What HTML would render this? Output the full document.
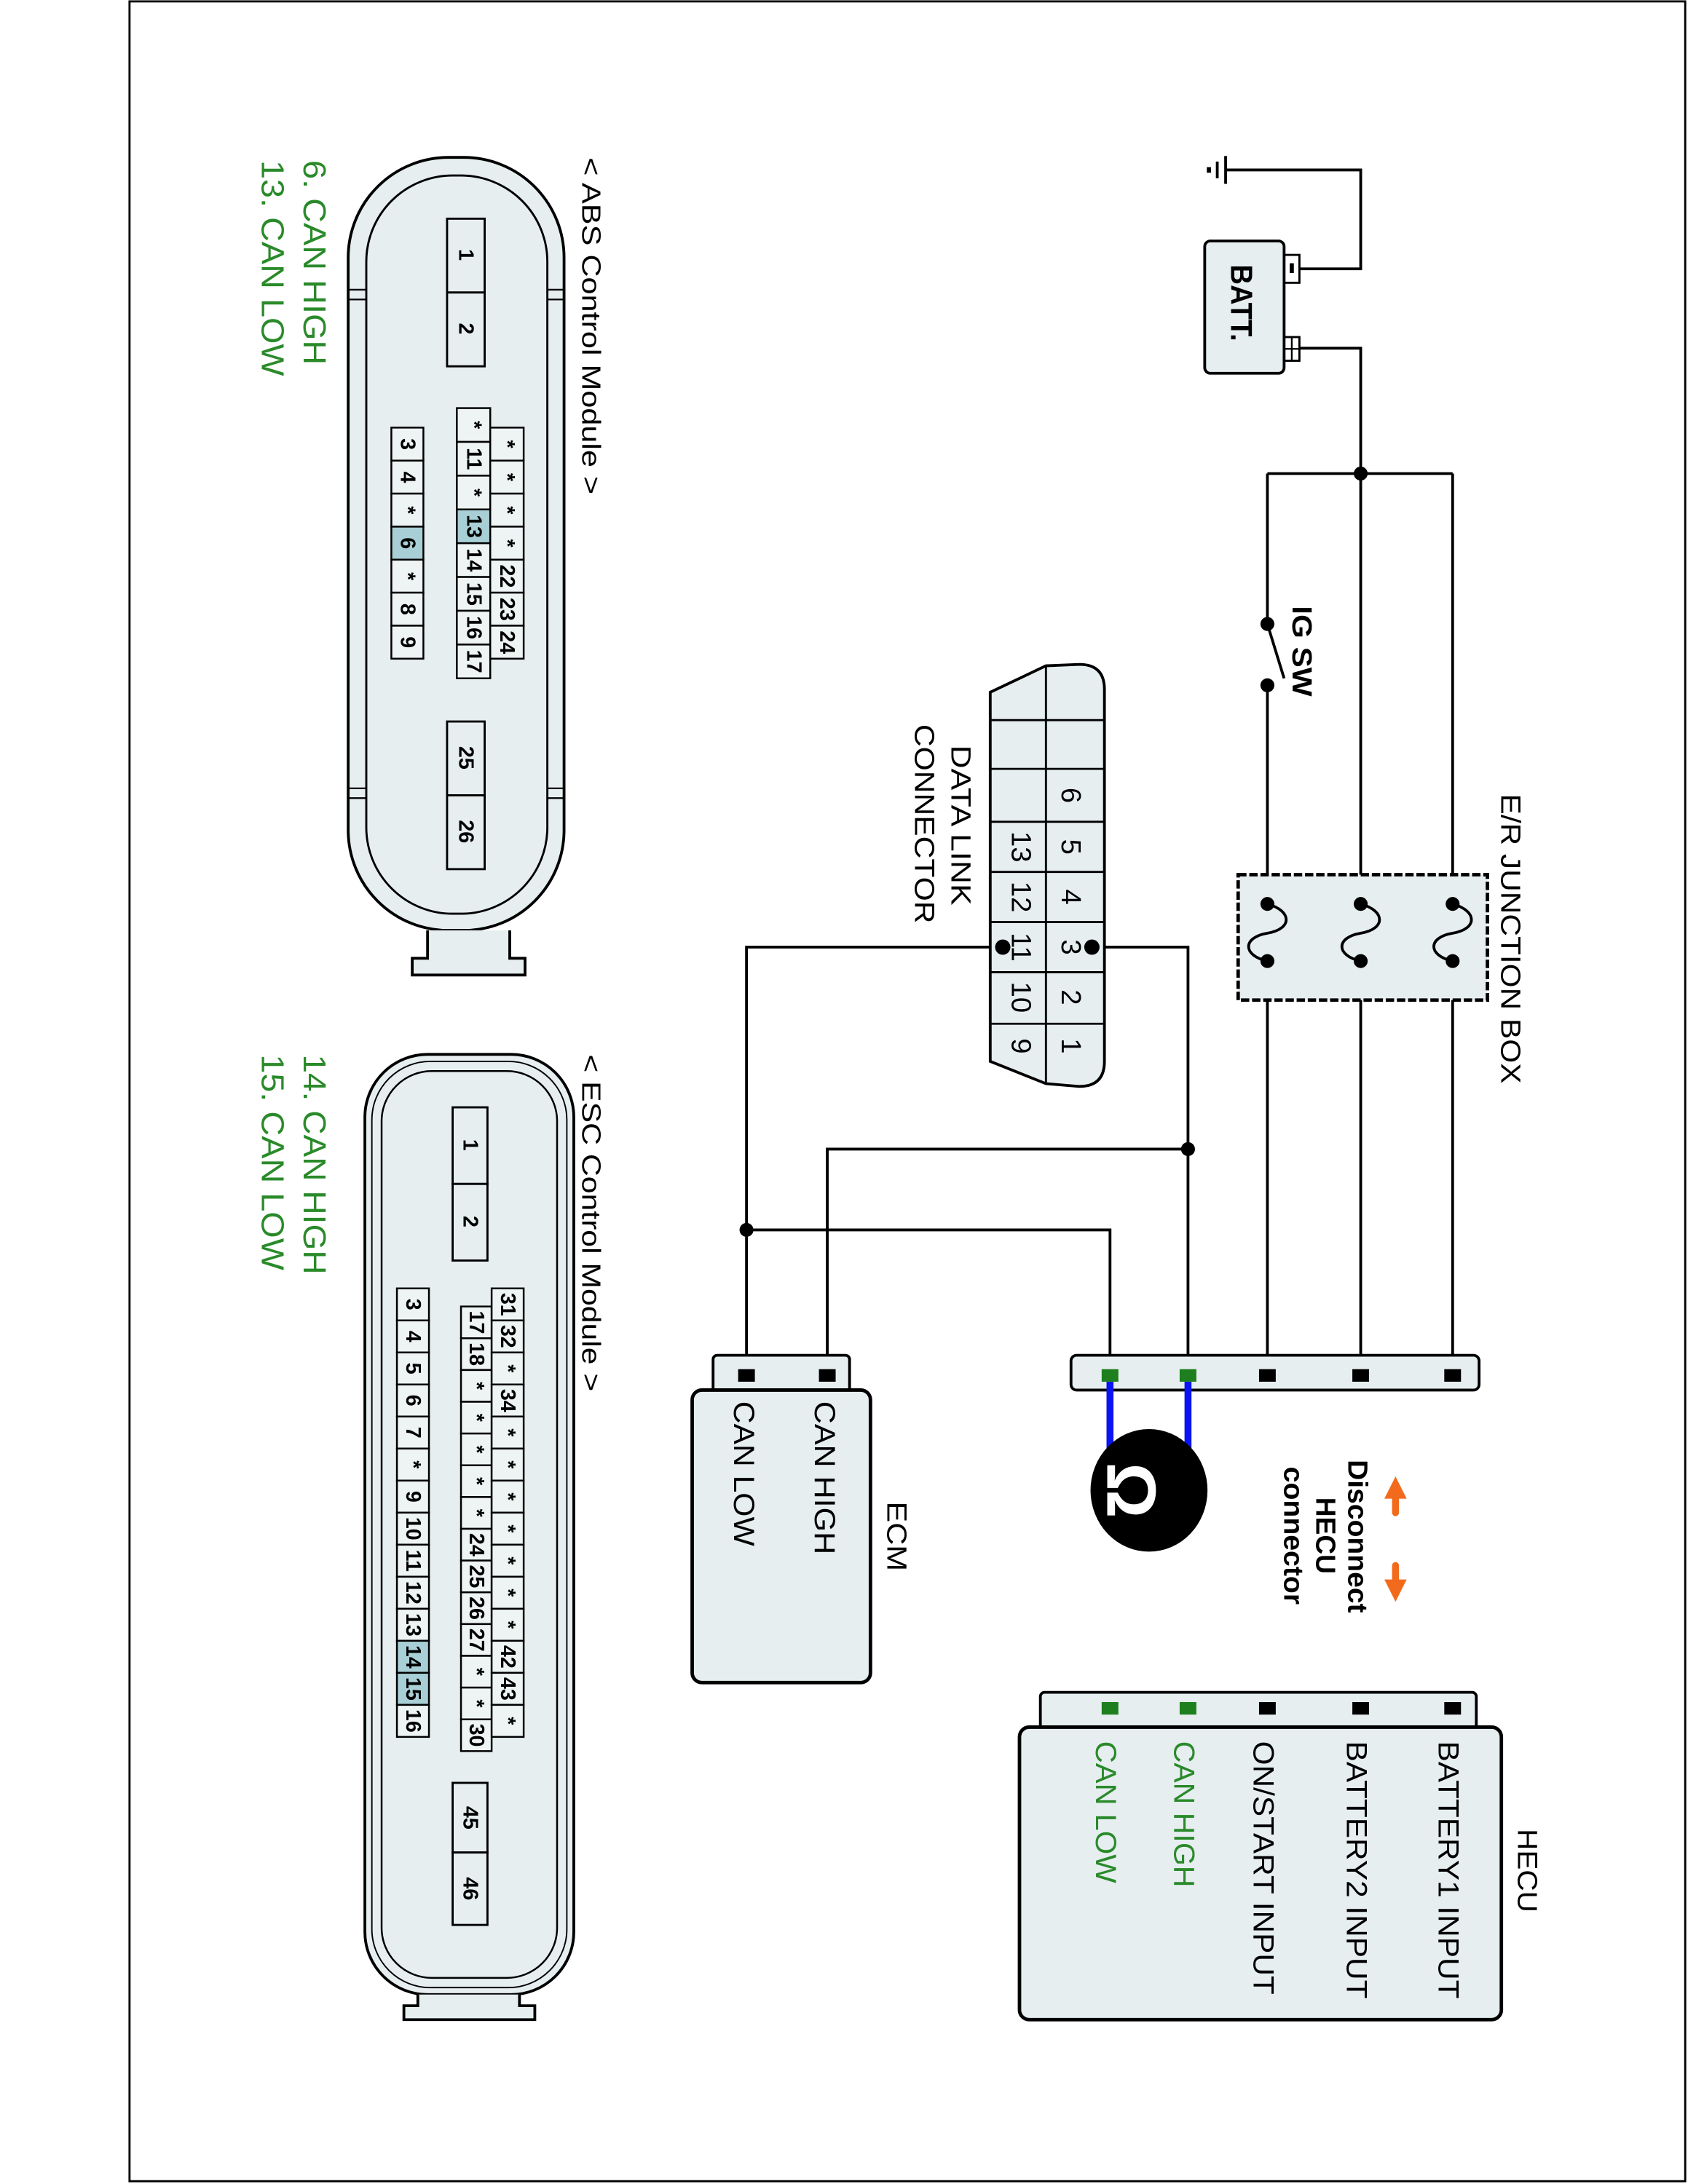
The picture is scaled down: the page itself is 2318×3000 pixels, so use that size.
<!DOCTYPE html>
<html><head><meta charset="utf-8">
<style>
html,body{margin:0;padding:0;background:#fff;}
svg{display:block;}
text{font-family:"Liberation Sans",Arial,sans-serif;}
.pn{font-size:15px;font-weight:bold;text-anchor:middle;dominant-baseline:central;}
.dn{font-size:20px;text-anchor:middle;dominant-baseline:central;}
</style></head><body>
<svg width="2318" height="3000" viewBox="0 0 1212 1568" preserveAspectRatio="none" xmlns="http://www.w3.org/2000/svg">
<rect x="0" y="0" width="1212" height="1568" fill="#fff"/>
<rect x="93" y="1" width="1117" height="1565" fill="none" stroke="#000" stroke-width="1.5"/>

<!-- ABS module -->
<rect x="250" y="113" width="155" height="555" rx="72" ry="72" fill="#e6eef0" stroke="#000" stroke-width="2"/>
<rect x="263" y="126" width="130" height="530" rx="62" ry="62" fill="none" stroke="#000" stroke-width="1.5"/>
<path d="M307 668 V688 H296 V700 H377 V688 H366 V668" fill="#e6eef0" stroke="#000" stroke-width="2"/>
<g stroke="#000" stroke-width="1.2"><line x1="250" y1="208" x2="263" y2="208"/><line x1="250" y1="215" x2="263" y2="215"/><line x1="393" y1="208" x2="405" y2="208"/><line x1="393" y1="215" x2="405" y2="215"/><line x1="250" y1="566" x2="263" y2="566"/><line x1="250" y1="573" x2="263" y2="573"/><line x1="393" y1="566" x2="405" y2="566"/><line x1="393" y1="573" x2="405" y2="573"/></g>
<g fill="#e6eef0" stroke="#000" stroke-width="1.5">
<rect x="321" y="157" width="27" height="53"/><rect x="321" y="210" width="27" height="53"/>
<rect x="321" y="518" width="27" height="53"/><rect x="321" y="571" width="27" height="53"/>
</g>
<text transform="translate(334.5,183) rotate(90)" class="pn">1</text>
<text transform="translate(334.5,236) rotate(90)" class="pn">2</text>
<text transform="translate(334.5,544) rotate(90)" class="pn">25</text>
<text transform="translate(334.5,597) rotate(90)" class="pn">26</text>
<g fill="#eef3f4" stroke="#000" stroke-width="1.3">
<rect x="281" y="307" width="23" height="23.7"/><rect x="281" y="330.7" width="23" height="23.7"/><rect x="281" y="354.4" width="23" height="23.7"/><rect x="281" y="378.1" width="23" height="23.7" fill="#a9cfd6"/><rect x="281" y="401.8" width="23" height="23.7"/><rect x="281" y="425.5" width="23" height="23.7"/><rect x="281" y="449.2" width="23" height="23.7"/>
<rect x="328" y="293" width="24" height="24.25"/><rect x="328" y="317.25" width="24" height="24.25"/><rect x="328" y="341.5" width="24" height="24.25"/><rect x="328" y="365.75" width="24" height="24.25" fill="#a9cfd6"/><rect x="328" y="390" width="24" height="24.25"/><rect x="328" y="414.25" width="24" height="24.25"/><rect x="328" y="438.5" width="24" height="24.25"/><rect x="328" y="462.75" width="24" height="24.25"/>
<rect x="352" y="307" width="24" height="23.7"/><rect x="352" y="330.7" width="24" height="23.7"/><rect x="352" y="354.4" width="24" height="23.7"/><rect x="352" y="378.1" width="24" height="23.7"/><rect x="352" y="401.8" width="24" height="23.7"/><rect x="352" y="425.5" width="24" height="23.7"/><rect x="352" y="449.2" width="24" height="23.7"/>
</g>
<g>
<text class="pn" transform="translate(292.5,318.9) rotate(90)">3</text>
<text class="pn" transform="translate(292.5,342.6) rotate(90)">4</text>
<text class="pn" transform="translate(292.5,366.3) rotate(90)">*</text>
<text class="pn" transform="translate(292.5,390) rotate(90)">6</text>
<text class="pn" transform="translate(292.5,413.7) rotate(90)">*</text>
<text class="pn" transform="translate(292.5,437.4) rotate(90)">8</text>
<text class="pn" transform="translate(292.5,461.1) rotate(90)">9</text>
<text class="pn" transform="translate(340,305.1) rotate(90)">*</text>
<text class="pn" transform="translate(340,329.4) rotate(90)">11</text>
<text class="pn" transform="translate(340,353.6) rotate(90)">*</text>
<text class="pn" transform="translate(340,377.9) rotate(90)">13</text>
<text class="pn" transform="translate(340,402.1) rotate(90)">14</text>
<text class="pn" transform="translate(340,426.4) rotate(90)">15</text>
<text class="pn" transform="translate(340,450.6) rotate(90)">16</text>
<text class="pn" transform="translate(340,474.9) rotate(90)">17</text>
<text class="pn" transform="translate(364,318.9) rotate(90)">*</text>
<text class="pn" transform="translate(364,342.6) rotate(90)">*</text>
<text class="pn" transform="translate(364,366.3) rotate(90)">*</text>
<text class="pn" transform="translate(364,390) rotate(90)">*</text>
<text class="pn" transform="translate(364,413.7) rotate(90)">22</text>
<text class="pn" transform="translate(364,437.4) rotate(90)">23</text>
<text class="pn" transform="translate(364,461.1) rotate(90)">24</text>
</g>
<text transform="translate(418,113) rotate(90)" font-size="19" textLength="242" lengthAdjust="spacingAndGlyphs">&lt; ABS Control Module &gt;</text>
<text transform="translate(218,115) rotate(90)" font-size="23" fill="#2a8a2a" textLength="147" lengthAdjust="spacingAndGlyphs">6. CAN HIGH</text>
<text transform="translate(188,115) rotate(90)" font-size="23" fill="#2a8a2a" textLength="155" lengthAdjust="spacingAndGlyphs">13. CAN LOW</text>

<!-- ESC module -->
<rect x="262" y="757" width="150" height="675" rx="45" ry="45" fill="#e6eef0" stroke="#000" stroke-width="2"/>
<rect x="267" y="762" width="140" height="665" rx="42" ry="42" fill="none" stroke="#000" stroke-width="1"/>
<rect x="274" y="769" width="126" height="651" rx="36" ry="36" fill="none" stroke="#000" stroke-width="1.3"/>
<path d="M300 1432 V1440 H290 V1450 H384 V1440 H373 V1432" fill="#e6eef0" stroke="#000" stroke-width="2"/>
<g fill="#e6eef0" stroke="#000" stroke-width="1.5">
<rect x="325" y="795" width="25" height="55"/><rect x="325" y="850" width="25" height="55"/>
<rect x="325" y="1280" width="25" height="50"/><rect x="325" y="1330" width="25" height="52"/>
</g>
<text class="pn" transform="translate(337.5,822) rotate(90)">1</text>
<text class="pn" transform="translate(337.5,877) rotate(90)">2</text>
<text class="pn" transform="translate(337.5,1305) rotate(90)">45</text>
<text class="pn" transform="translate(337.5,1356) rotate(90)">46</text>
<g fill="#eef3f4" stroke="#000" stroke-width="1.3">
<rect x="285" y="925" width="23" height="23"/><rect x="285" y="948" width="23" height="23"/><rect x="285" y="971" width="23" height="23"/><rect x="285" y="994" width="23" height="23"/><rect x="285" y="1017" width="23" height="23"/><rect x="285" y="1040" width="23" height="23"/><rect x="285" y="1063" width="23" height="23"/><rect x="285" y="1086" width="23" height="23"/><rect x="285" y="1109" width="23" height="23"/><rect x="285" y="1132" width="23" height="23"/><rect x="285" y="1155" width="23" height="23"/><rect x="285" y="1178" width="23" height="23" fill="#a9cfd6"/><rect x="285" y="1201" width="23" height="23" fill="#a9cfd6"/><rect x="285" y="1224" width="23" height="23"/>
<rect x="331" y="938" width="22" height="22.8"/><rect x="331" y="960.8" width="22" height="22.8"/><rect x="331" y="983.6" width="22" height="22.8"/><rect x="331" y="1006.4" width="22" height="22.8"/><rect x="331" y="1029.2" width="22" height="22.8"/><rect x="331" y="1052" width="22" height="22.8"/><rect x="331" y="1074.8" width="22" height="22.8"/><rect x="331" y="1097.6" width="22" height="22.8"/><rect x="331" y="1120.4" width="22" height="22.8"/><rect x="331" y="1143.2" width="22" height="22.8"/><rect x="331" y="1166" width="22" height="22.8"/><rect x="331" y="1188.8" width="22" height="22.8"/><rect x="331" y="1211.6" width="22" height="22.8"/><rect x="331" y="1234.4" width="22" height="22.8"/>
<rect x="353" y="925" width="23" height="23"/><rect x="353" y="948" width="23" height="23"/><rect x="353" y="971" width="23" height="23"/><rect x="353" y="994" width="23" height="23"/><rect x="353" y="1017" width="23" height="23"/><rect x="353" y="1040" width="23" height="23"/><rect x="353" y="1063" width="23" height="23"/><rect x="353" y="1086" width="23" height="23"/><rect x="353" y="1109" width="23" height="23"/><rect x="353" y="1132" width="23" height="23"/><rect x="353" y="1155" width="23" height="23"/><rect x="353" y="1178" width="23" height="23"/><rect x="353" y="1201" width="23" height="23"/><rect x="353" y="1224" width="23" height="23"/>
</g>
<g>
<text class="pn" transform="translate(296.5,936.5) rotate(90)">3</text>
<text class="pn" transform="translate(296.5,959.5) rotate(90)">4</text>
<text class="pn" transform="translate(296.5,982.5) rotate(90)">5</text>
<text class="pn" transform="translate(296.5,1005.5) rotate(90)">6</text>
<text class="pn" transform="translate(296.5,1028.5) rotate(90)">7</text>
<text class="pn" transform="translate(296.5,1051.5) rotate(90)">*</text>
<text class="pn" transform="translate(296.5,1074.5) rotate(90)">9</text>
<text class="pn" transform="translate(296.5,1097.5) rotate(90)">10</text>
<text class="pn" transform="translate(296.5,1120.5) rotate(90)">11</text>
<text class="pn" transform="translate(296.5,1143.5) rotate(90)">12</text>
<text class="pn" transform="translate(296.5,1166.5) rotate(90)">13</text>
<text class="pn" transform="translate(296.5,1189.5) rotate(90)">14</text>
<text class="pn" transform="translate(296.5,1212.5) rotate(90)">15</text>
<text class="pn" transform="translate(296.5,1235.5) rotate(90)">16</text>
<text class="pn" transform="translate(342,949.4) rotate(90)">17</text>
<text class="pn" transform="translate(342,972.2) rotate(90)">18</text>
<text class="pn" transform="translate(342,995) rotate(90)">*</text>
<text class="pn" transform="translate(342,1017.8) rotate(90)">*</text>
<text class="pn" transform="translate(342,1040.6) rotate(90)">*</text>
<text class="pn" transform="translate(342,1063.4) rotate(90)">*</text>
<text class="pn" transform="translate(342,1086.2) rotate(90)">*</text>
<text class="pn" transform="translate(342,1109) rotate(90)">24</text>
<text class="pn" transform="translate(342,1131.8) rotate(90)">25</text>
<text class="pn" transform="translate(342,1154.6) rotate(90)">26</text>
<text class="pn" transform="translate(342,1177.4) rotate(90)">27</text>
<text class="pn" transform="translate(342,1200.2) rotate(90)">*</text>
<text class="pn" transform="translate(342,1223) rotate(90)">*</text>
<text class="pn" transform="translate(342,1245.8) rotate(90)">30</text>
<text class="pn" transform="translate(364.5,936.5) rotate(90)">31</text>
<text class="pn" transform="translate(364.5,959.5) rotate(90)">32</text>
<text class="pn" transform="translate(364.5,982.5) rotate(90)">*</text>
<text class="pn" transform="translate(364.5,1005.5) rotate(90)">34</text>
<text class="pn" transform="translate(364.5,1028.5) rotate(90)">*</text>
<text class="pn" transform="translate(364.5,1051.5) rotate(90)">*</text>
<text class="pn" transform="translate(364.5,1074.5) rotate(90)">*</text>
<text class="pn" transform="translate(364.5,1097.5) rotate(90)">*</text>
<text class="pn" transform="translate(364.5,1120.5) rotate(90)">*</text>
<text class="pn" transform="translate(364.5,1143.5) rotate(90)">*</text>
<text class="pn" transform="translate(364.5,1166.5) rotate(90)">*</text>
<text class="pn" transform="translate(364.5,1189.5) rotate(90)">42</text>
<text class="pn" transform="translate(364.5,1212.5) rotate(90)">43</text>
<text class="pn" transform="translate(364.5,1235.5) rotate(90)">*</text>
</g>
<text transform="translate(418,757) rotate(90)" font-size="19" textLength="242" lengthAdjust="spacingAndGlyphs">&lt; ESC Control Module &gt;</text>
<text transform="translate(218,757) rotate(90)" font-size="23" fill="#2a8a2a" textLength="158" lengthAdjust="spacingAndGlyphs">14. CAN HIGH</text>
<text transform="translate(188,757) rotate(90)" font-size="23" fill="#2a8a2a" textLength="155" lengthAdjust="spacingAndGlyphs">15. CAN LOW</text>

<!-- Wiring -->
<g stroke="#000" stroke-width="2" fill="none">
<line x1="880" y1="112" x2="880" y2="132"/>
<line x1="874" y1="116" x2="874" y2="128"/>
<line x1="868" y1="120" x2="868" y2="124" stroke-width="3"/>
<polyline points="880,122 977,122 977,193 933,193"/>
<polyline points="933,250 977,250 977,985"/>
<line x1="910" y1="340" x2="1043" y2="340"/>
<line x1="910" y1="340" x2="910" y2="448"/>
<line x1="910" y1="448" x2="922" y2="487"/>
<line x1="910" y1="492" x2="910" y2="985"/>
<line x1="1043" y1="340" x2="1043" y2="985"/>
<polyline points="784,680 853,680 853,985"/>
<polyline points="853,825 594,825 594,985"/>
<polyline points="720,680 536,680 536,985"/>
<polyline points="536,883 797,883 797,985"/>
</g>
<!-- Battery -->
<rect x="922" y="183" width="11" height="20" fill="#fff" stroke="#000" stroke-width="1.5"/>
<rect x="926" y="189" width="3" height="7" fill="#000"/>
<rect x="922" y="242" width="11" height="17" fill="#fff" stroke="#000" stroke-width="1.5"/>
<line x1="922" y1="250.5" x2="933" y2="250.5" stroke="#000" stroke-width="1.2"/>
<line x1="927.5" y1="242" x2="927.5" y2="259" stroke="#000" stroke-width="1.2"/>
<rect x="865" y="173" width="57" height="95" rx="4" fill="#e6eef0" stroke="#000" stroke-width="2"/>
<text transform="translate(884,190) rotate(90)" font-size="22" font-weight="bold" textLength="55" lengthAdjust="spacingAndGlyphs">BATT.</text>
<circle cx="977" cy="340" r="5" fill="#000"/>
<circle cx="910" cy="448" r="5" fill="#000"/>
<circle cx="910" cy="492" r="5" fill="#000"/>
<text transform="translate(928,435) rotate(90)" font-size="20" font-weight="bold" textLength="65" lengthAdjust="spacingAndGlyphs">IG SW</text>

<!-- Junction box -->
<rect x="889" y="628" width="179" height="90" fill="#e6eef0" stroke="#000" stroke-width="2.5" stroke-dasharray="6,2"/>
<g stroke="#000" stroke-width="2" fill="none">
<path d="M910,649 C928,654 928,667 910,670 C892,673 892,686 910,690"/>
<path d="M977,649 C995,654 995,667 977,670 C959,673 959,686 977,690"/>
<path d="M1043,649 C1061,654 1061,667 1043,670 C1025,673 1025,686 1043,690"/>
</g>
<circle cx="910" cy="649" r="5" fill="#000"/><circle cx="910" cy="690" r="5" fill="#000"/>
<circle cx="977" cy="649" r="5" fill="#000"/><circle cx="977" cy="690" r="5" fill="#000"/>
<circle cx="1043" cy="649" r="5" fill="#000"/><circle cx="1043" cy="690" r="5" fill="#000"/>
<text transform="translate(1078,570) rotate(90)" font-size="20" textLength="208" lengthAdjust="spacingAndGlyphs">E/R JUNCTION BOX</text>

<!-- DLC -->
<path d="M711,497 L751,478 L775,477 Q793,477 793,495 L793,762 Q793,780 775,780 L751,778 L711,762 Z" fill="#e6eef0" stroke="#000" stroke-width="2"/>
<g stroke="#000" stroke-width="1.5">
<line x1="751" y1="478" x2="751" y2="778"/>
<line x1="711" y1="517" x2="793" y2="517"/>
<line x1="711" y1="552" x2="793" y2="552"/>
<line x1="711" y1="590" x2="793" y2="590"/>
<line x1="711" y1="626" x2="793" y2="626"/>
<line x1="711" y1="662" x2="793" y2="662"/>
<line x1="711" y1="698" x2="793" y2="698"/>
<line x1="711" y1="735" x2="793" y2="735"/>
</g>
<text class="dn" transform="translate(769,571) rotate(90)">6</text>
<text class="dn" transform="translate(769,608) rotate(90)">5</text>
<text class="dn" transform="translate(769,644) rotate(90)">4</text>
<text class="dn" transform="translate(769,680) rotate(90)">3</text>
<text class="dn" transform="translate(769,716) rotate(90)">2</text>
<text class="dn" transform="translate(769,751) rotate(90)">1</text>
<text class="dn" transform="translate(733,608) rotate(90)">13</text>
<text class="dn" transform="translate(733,644) rotate(90)">12</text>
<text class="dn" transform="translate(733,680) rotate(90)">11</text>
<text class="dn" transform="translate(733,716) rotate(90)">10</text>
<text class="dn" transform="translate(733,751) rotate(90)">9</text>
<circle cx="784" cy="680" r="5.5" fill="#000"/>
<circle cx="720" cy="680" r="5.5" fill="#000"/>
<circle cx="853" cy="825" r="5" fill="#000"/>
<circle cx="536" cy="883" r="5" fill="#000"/>
<text transform="translate(683,535) rotate(90)" font-size="20" textLength="115" lengthAdjust="spacingAndGlyphs">DATA LINK</text>
<text transform="translate(657,520) rotate(90)" font-size="20" textLength="143" lengthAdjust="spacingAndGlyphs">CONNECTOR</text>

<!-- HECU connector strip -->
<rect x="769" y="973" width="293" height="25" rx="4" fill="#e6eef0" stroke="#000" stroke-width="2"/>
<rect x="791" y="983" width="12" height="9" fill="#1e7f1e"/>
<rect x="847" y="983" width="12" height="9" fill="#1e7f1e"/>
<rect x="904" y="983" width="12" height="9" fill="#000"/>
<rect x="971" y="983" width="12" height="9" fill="#000"/>
<rect x="1037" y="983" width="12" height="9" fill="#000"/>
<line x1="797" y1="992" x2="797" y2="1050" stroke="#0a14f0" stroke-width="5"/>
<line x1="853" y1="992" x2="853" y2="1050" stroke="#0a14f0" stroke-width="5"/>
<ellipse cx="825" cy="1070" rx="42" ry="44" fill="#000"/>
<text transform="translate(812,1070) rotate(90)" font-size="50" font-weight="bold" fill="#fff" text-anchor="middle" dominant-baseline="central">Ω</text>

<!-- Orange arrows -->
<g fill="#f26a1b" stroke="#f26a1b">
<line x1="1002" y1="1072" x2="1002" y2="1086" stroke-width="5" stroke-linecap="round"/>
<polygon points="1002,1060 1010,1076 994,1076" stroke="none"/>
<line x1="1002" y1="1124" x2="1002" y2="1138" stroke-width="5" stroke-linecap="round"/>
<polygon points="1002,1150 1010,1134 994,1134" stroke="none"/>
</g>
<text transform="translate(968,1048) rotate(90)" font-size="20" font-weight="bold" textLength="110" lengthAdjust="spacingAndGlyphs">Disconnect</text>
<text transform="translate(945,1075) rotate(90)" font-size="20" font-weight="bold" textLength="55" lengthAdjust="spacingAndGlyphs">HECU</text>
<text transform="translate(922,1053) rotate(90)" font-size="20" font-weight="bold" textLength="99" lengthAdjust="spacingAndGlyphs">connector</text>

<!-- ECM -->
<rect x="512" y="973" width="98" height="28" rx="3" fill="#e6eef0" stroke="#000" stroke-width="2"/>
<rect x="497" y="998" width="128" height="210" rx="7" fill="#e6eef0" stroke="#000" stroke-width="2.5"/>
<rect x="530" y="983" width="12" height="9" fill="#000"/>
<rect x="588" y="983" width="12" height="9" fill="#000"/>
<text transform="translate(585,1006) rotate(90)" font-size="21" textLength="110" lengthAdjust="spacingAndGlyphs">CAN HIGH</text>
<text transform="translate(527,1006) rotate(90)" font-size="21" textLength="104" lengthAdjust="spacingAndGlyphs">CAN LOW</text>
<text transform="translate(637,1078) rotate(90)" font-size="20" textLength="50" lengthAdjust="spacingAndGlyphs">ECM</text>

<!-- HECU -->
<rect x="747" y="1215" width="313" height="28" rx="3" fill="#e6eef0" stroke="#000" stroke-width="2"/>
<rect x="732" y="1240" width="346" height="210" rx="7" fill="#e6eef0" stroke="#000" stroke-width="2.5"/>
<rect x="1037" y="1222" width="12" height="9" fill="#000"/>
<rect x="971" y="1222" width="12" height="9" fill="#000"/>
<rect x="904" y="1222" width="12" height="9" fill="#000"/>
<rect x="847" y="1222" width="12" height="9" fill="#1e7f1e"/>
<rect x="791" y="1222" width="12" height="9" fill="#1e7f1e"/>
<text transform="translate(1033,1250) rotate(90)" font-size="21" textLength="185" lengthAdjust="spacingAndGlyphs">BATTERY1 INPUT</text>
<text transform="translate(967,1250) rotate(90)" font-size="21" textLength="185" lengthAdjust="spacingAndGlyphs">BATTERY2 INPUT</text>
<text transform="translate(900,1250) rotate(90)" font-size="21" textLength="182" lengthAdjust="spacingAndGlyphs">ON/START INPUT</text>
<text transform="translate(843,1250) rotate(90)" font-size="21" fill="#2a8a2a" textLength="105" lengthAdjust="spacingAndGlyphs">CAN HIGH</text>
<text transform="translate(787,1250) rotate(90)" font-size="21" fill="#2a8a2a" textLength="102" lengthAdjust="spacingAndGlyphs">CAN LOW</text>
<text transform="translate(1090,1313) rotate(90)" font-size="20" textLength="60" lengthAdjust="spacingAndGlyphs">HECU</text>
</svg>
</body></html>
